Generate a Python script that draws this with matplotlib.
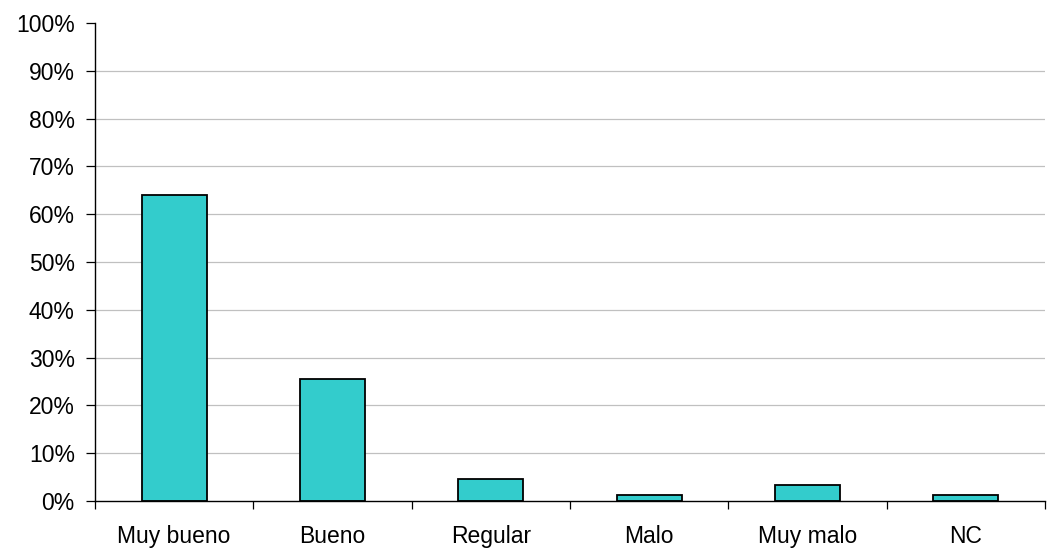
import matplotlib
matplotlib.use("Agg")
import matplotlib.pyplot as plt
import numpy as np
from matplotlib.ticker import FixedLocator, FuncFormatter

categories = ["Muy bueno", "Bueno", "Regular", "Malo", "Muy malo", "NC"]
values = [64.0, 25.5, 4.6, 1.3, 3.3, 1.3]
yticks = [0, 10, 20, 30, 40, 50, 60, 70, 80, 90, 100]

plt.rcParams['font.family'] = ['Liberation Sans', 'DejaVu Sans']

fig = plt.figure(figsize=(10.53, 5.48), dpi=100)
ax = fig.add_axes([95/1053, 1-501/548, (1045-95)/1053, (501-23)/548])

x = np.arange(len(categories))
ax.bar(x, values, width=0.41, color="#33CCCC", edgecolor="black", linewidth=1.3, zorder=3)

ax.set_xlim(-0.5, len(categories)-0.5)
ax.set_ylim(0, 100)
ax.set_yticks(yticks)
ax.yaxis.set_major_formatter(FuncFormatter(lambda v, p: f"{int(v)}%"))
for t in yticks[1:-1]:
    ax.axhline(t, color="#c0c0c0", linewidth=0.9, zorder=1)

ax.set_xticks(x)
ax.set_xticklabels(categories)
ax.xaxis.set_minor_locator(FixedLocator(np.arange(-0.5, len(categories), 1.0)))
ax.tick_params(axis='x', which='major', length=0, pad=17, labelsize=16.5)
ax.tick_params(axis='x', which='minor', length=6, width=0.9, direction='out')
ax.tick_params(axis='y', which='major', length=6.5, width=0.9, direction='out', labelsize=16.5, pad=8)

for s in ["top", "right"]:
    ax.spines[s].set_visible(False)
ax.spines["left"].set_linewidth(1.0)
ax.spines["bottom"].set_linewidth(1.0)
ax.spines["left"].set_zorder(4)
ax.spines["bottom"].set_zorder(4)

fig.savefig("out.png", dpi=100)
